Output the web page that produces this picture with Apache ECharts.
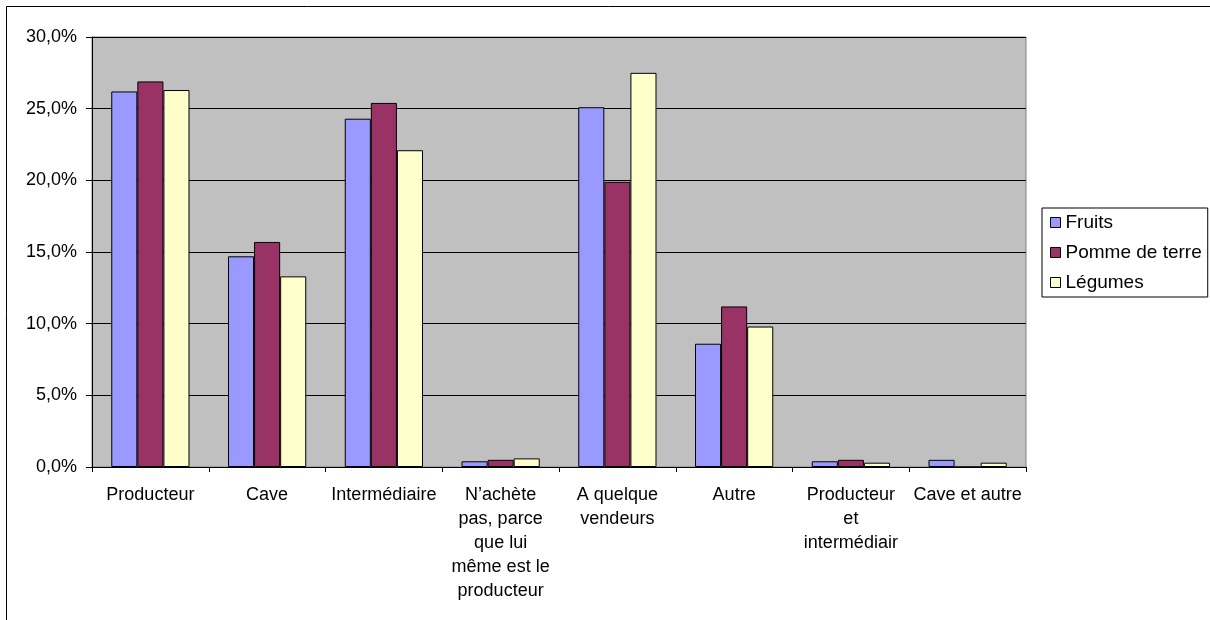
<!DOCTYPE html>
<html>
<head>
<meta charset="utf-8">
<script src="https://cdn.jsdelivr.net/npm/echarts@6/dist/echarts.min.js"></script>
<style>
html,body{margin:0;padding:0;background:#fff;}
#chart{width:1210px;height:620px;}
</style>
</head>
<body>
<div id="chart"></div>
<script>
const categories = [
  "Producteur",
  "Cave",
  "Intermédiaire",
  "N’achète\npas, parce\nque lui\nmême est le\nproducteur",
  "A quelque\nvendeurs",
  "Autre",
  "Producteur\net\nintermédiair",
  "Cave et autre"
];
const seriesNames = ["Fruits", "Pomme de terre", "Légumes"];
const fruits = [26.2, 14.7, 24.3, 0.4, 25.1, 8.6, 0.4, 0.5];
const pommeDeTerre = [26.9, 15.7, 25.4, 0.5, 19.9, 11.2, 0.5, 0.0];
const legumes = [26.3, 13.3, 22.1, 0.6, 27.5, 9.8, 0.3, 0.3];
const colors = ["#9999FF", "#993366", "#FFFFCC"];

const FONT = 'Arial, "Liberation Sans", sans-serif';
const chart = echarts.init(document.getElementById('chart'), null, {renderer: 'canvas'});

function mkSeries(name, data, color) {
  return {
    name: name,
    type: 'bar',
    data: data,
    barGap: '0%',
    barCategoryGap: '33%',
    itemStyle: {color: color, borderColor: '#000', borderWidth: 1},
    emphasis: {disabled: true},
    animation: false
  };
}

chart.setOption({
  animation: false,
  backgroundColor: '#fff',
  textStyle: {fontFamily: FONT},
  graphic: [{
    type: 'rect',
    shape: {x: 6.5, y: 6.5, width: 1300, height: 700},
    style: {fill: 'none', stroke: '#000', lineWidth: 1},
    silent: true
  }],
  grid: {
    left: 92, right: 184, top: 37, bottom: 153,
    show: true, backgroundColor: '#C0C0C0', borderColor: '#808080', borderWidth: 1
  },
  legend: {
    orient: 'vertical',
    left: 1042, top: 208,
    data: seriesNames,
    icon: 'rect',
    itemWidth: 10, itemHeight: 10,
    itemGap: 11,
    padding: [5, 6, 5, 8],
    backgroundColor: '#fff',
    borderColor: '#000', borderWidth: 1,
    itemStyle: {borderColor: '#000', borderWidth: 1},
    textStyle: {fontFamily: FONT, fontSize: 19, color: '#000'},
    selectedMode: false
  },
  xAxis: {
    type: 'category',
    data: categories,
    boundaryGap: true,
    axisLine: {lineStyle: {color: '#000', width: 1}},
    axisTick: {show: true, inside: false, length: 5, alignWithLabel: false, lineStyle: {color: '#000'}},
    axisLabel: {
      interval: 0, color: '#000', fontSize: 18, fontFamily: FONT,
      lineHeight: 24, margin: 16, verticalAlign: 'top'
    },
    splitLine: {show: false}
  },
  yAxis: {
    type: 'value',
    min: 0, max: 30, interval: 5,
    axisLine: {show: true, lineStyle: {color: '#000', width: 1}},
    axisTick: {show: true, inside: false, length: 6, lineStyle: {color: '#000'}},
    axisLabel: {
      color: '#000', fontSize: 18, fontFamily: FONT, margin: 15,
      formatter: v => v.toFixed(1).replace('.', ',') + '%'
    },
    splitLine: {show: true, lineStyle: {color: '#000', width: 1}}
  },
  series: [
    mkSeries(seriesNames[0], fruits, colors[0]),
    mkSeries(seriesNames[1], pommeDeTerre, colors[1]),
    mkSeries(seriesNames[2], legumes, colors[2])
  ]
});
</script>
</body>
</html>
